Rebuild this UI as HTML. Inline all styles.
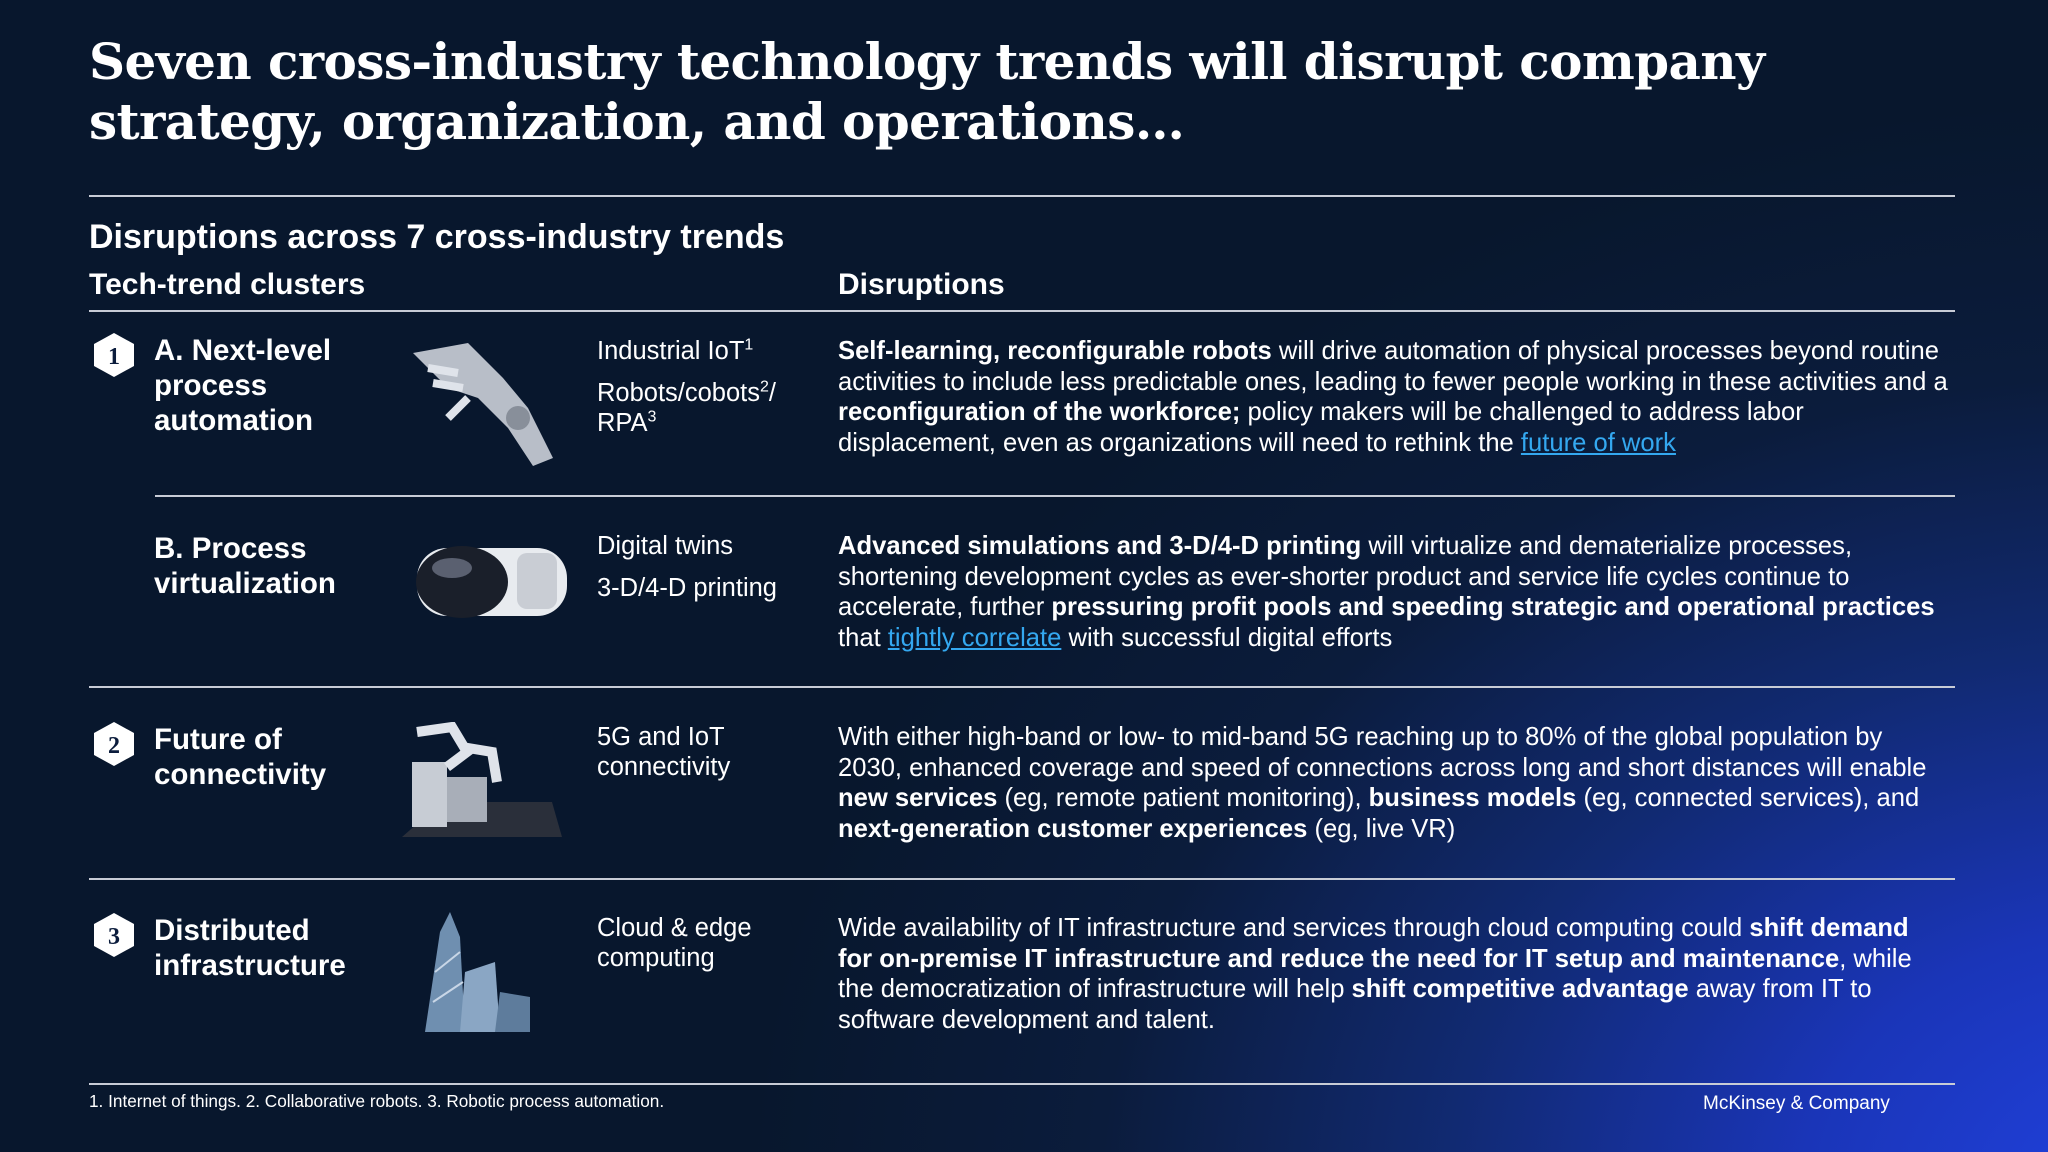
<!DOCTYPE html>
<html><head><meta charset="utf-8">
<style>
*{margin:0;padding:0;box-sizing:border-box}
body{width:2048px;height:1152px;overflow:hidden;font-family:"Liberation Sans",sans-serif;color:#fff;
background:radial-gradient(ellipse 1400px 1100px at 2150px 1200px,#2142e0 0%,#1a35b8 25%,#112a72 50%,#0b1c3c 75%,#08172d 100%);position:relative}
.a{position:absolute}
.title{left:89px;top:32px;font-family:"DejaVu Serif","Liberation Serif",serif;font-weight:bold;font-size:50px;line-height:60px;letter-spacing:-0.6px}
.hr{position:absolute;height:2px;background:#c8ccd6}
.h2{font-weight:bold;font-size:34px}
.h3{font-weight:bold;font-size:30px}
.clus{font-weight:bold;font-size:29.5px;line-height:35px;left:154px}
.tech{font-size:25.5px;line-height:30px;left:597px}
.dis{font-size:25.6px;line-height:30.5px;left:838px;width:1108px}
.lk{color:#34a8f0;text-decoration:underline}
sup{font-size:16px;line-height:0}
.hex{position:absolute;width:42px;height:46px}
</style></head><body>
<div class="a title">Seven cross-industry technology trends will disrupt company<br>strategy, organization, and operations…</div>
<div class="hr" style="left:89px;width:1866px;top:195px;height:1.5px"></div>
<div class="a h2" style="left:89px;top:218px">Disruptions across 7 cross-industry trends</div>
<div class="a h3" style="left:89px;top:268px">Tech-trend clusters</div>
<div class="a h3" style="left:838px;top:268px">Disruptions</div>
<div class="hr" style="left:89px;width:1866px;top:310px"></div>

<svg class="hex" style="left:93px;top:332px" viewBox="0 0 42 46"><polygon points="21,1 41,12 41,34 21,45 1,34 1,12" fill="#fff"/><text x="21" y="32" text-anchor="middle" font-family="Liberation Serif" font-weight="bold" font-size="24" fill="#0b1c3c">1</text></svg>
<div class="a clus" style="top:333px">A. Next-level<br>process<br>automation</div>
<svg class="a" style="left:408px;top:338px" width="150" height="130"><path d="M5 15 L60 5 L95 40 L120 70 L145 120 L125 128 L100 90 L70 60 L40 50 Z" fill="#b8bec8"/><path d="M20 30 L50 35 M25 45 L55 50 M60 60 L40 80" stroke="#dfe3ea" stroke-width="8"/><circle cx="110" cy="80" r="12" fill="#888f9a"/></svg>
<div class="a tech" style="top:336px">Industrial IoT<sup>1</sup><div style="height:12px"></div>Robots/cobots<sup>2</sup>/<br>RPA<sup>3</sup></div>
<div class="a dis" style="top:336px;width:1113px"><b>Self-learning, reconfigurable robots</b> will drive automation of physical processes beyond routine activities to include less predictable ones, leading to fewer people working in these activities and a <b>reconfiguration of the workforce;</b> policy makers will be challenged to address labor displacement, even as organizations will need to rethink the <span class="lk">future of work</span></div>
<div class="hr" style="left:155px;width:1800px;top:495px"></div>

<div class="a clus" style="top:531px">B. Process<br>virtualization</div>
<svg class="a" style="left:412px;top:538px" width="160" height="90"><rect x="5" y="10" width="150" height="68" rx="30" fill="#e8ebef"/><ellipse cx="50" cy="44" rx="46" ry="36" fill="#1a1f2a"/><ellipse cx="40" cy="30" rx="20" ry="10" fill="#5a6070"/><rect x="105" y="15" width="40" height="56" rx="10" fill="#c9cdd4"/></svg>
<div class="a tech" style="top:531px">Digital twins<div style="height:12px"></div>3-D/4-D printing</div>
<div class="a dis" style="top:531px"><b>Advanced simulations and 3-D/4-D printing</b> will virtualize and dematerialize processes, shortening development cycles as ever-shorter product and service life cycles continue to accelerate, further <b>pressuring profit pools and speeding strategic and operational practices</b> that <span class="lk">tightly correlate</span> with successful digital efforts</div>
<div class="hr" style="left:89px;width:1866px;top:686px"></div>

<svg class="hex" style="left:93px;top:721px" viewBox="0 0 42 46"><polygon points="21,1 41,12 41,34 21,45 1,34 1,12" fill="#fff"/><text x="21" y="32" text-anchor="middle" font-family="Liberation Serif" font-weight="bold" font-size="24" fill="#0b1c3c">2</text></svg>
<div class="a clus" style="top:722px">Future of<br>connectivity</div>
<svg class="a" style="left:402px;top:722px" width="160" height="115"><path d="M0 115 L40 80 L150 80 L160 115 Z" fill="#2a2f3a"/><rect x="10" y="40" width="35" height="65" fill="#c7ccd4"/><path d="M15 10 L50 5 L65 30 L45 45 M60 25 L90 30 L95 60" stroke="#dfe3ea" stroke-width="10" fill="none"/><rect x="45" y="55" width="40" height="45" fill="#a8aeb8"/></svg>
<div class="a tech" style="top:722px">5G and IoT<br>connectivity</div>
<div class="a dis" style="top:722px">With either high-band or low- to mid-band 5G reaching up to 80% of the global population by 2030, enhanced coverage and speed of connections across long and short distances will enable <b>new services</b> (eg, remote patient monitoring), <b>business models</b> (eg, connected services), and <b>next-generation customer experiences</b> (eg, live VR)</div>
<div class="hr" style="left:89px;width:1866px;top:878px"></div>

<svg class="hex" style="left:93px;top:912px" viewBox="0 0 42 46"><polygon points="21,1 41,12 41,34 21,45 1,34 1,12" fill="#fff"/><text x="21" y="32" text-anchor="middle" font-family="Liberation Serif" font-weight="bold" font-size="24" fill="#0b1c3c">3</text></svg>
<div class="a clus" style="top:913px">Distributed<br>infrastructure</div>
<svg class="a" style="left:405px;top:912px" width="130" height="122"><path d="M20 120 L35 20 L45 0 L55 25 L60 120 Z" fill="#6f8fb0"/><path d="M55 120 L60 60 L90 50 L95 120 Z" fill="#8aa6c4"/><path d="M90 120 L95 80 L125 85 L125 120 Z" fill="#5e7c9c"/><path d="M30 60 L55 40 M28 90 L58 70" stroke="#c8d6e6" stroke-width="2"/></svg>
<div class="a tech" style="top:913px">Cloud &amp; edge<br>computing</div>
<div class="a dis" style="top:913px">Wide availability of IT infrastructure and services through cloud computing could <b>shift demand for on-premise IT infrastructure and reduce the need for IT setup and maintenance</b>, while the democratization of infrastructure will help <b>shift competitive advantage</b> away from IT to software development and talent.</div>

<div class="hr" style="left:89px;width:1866px;top:1083px;height:1.5px"></div>
<div class="a" style="left:89px;top:1091px;font-size:17.2px">1. Internet of things. 2. Collaborative robots. 3. Robotic process automation.</div>
<div class="a" style="left:1703px;top:1093px;font-size:19px">McKinsey &amp; Company</div>
</body></html>
